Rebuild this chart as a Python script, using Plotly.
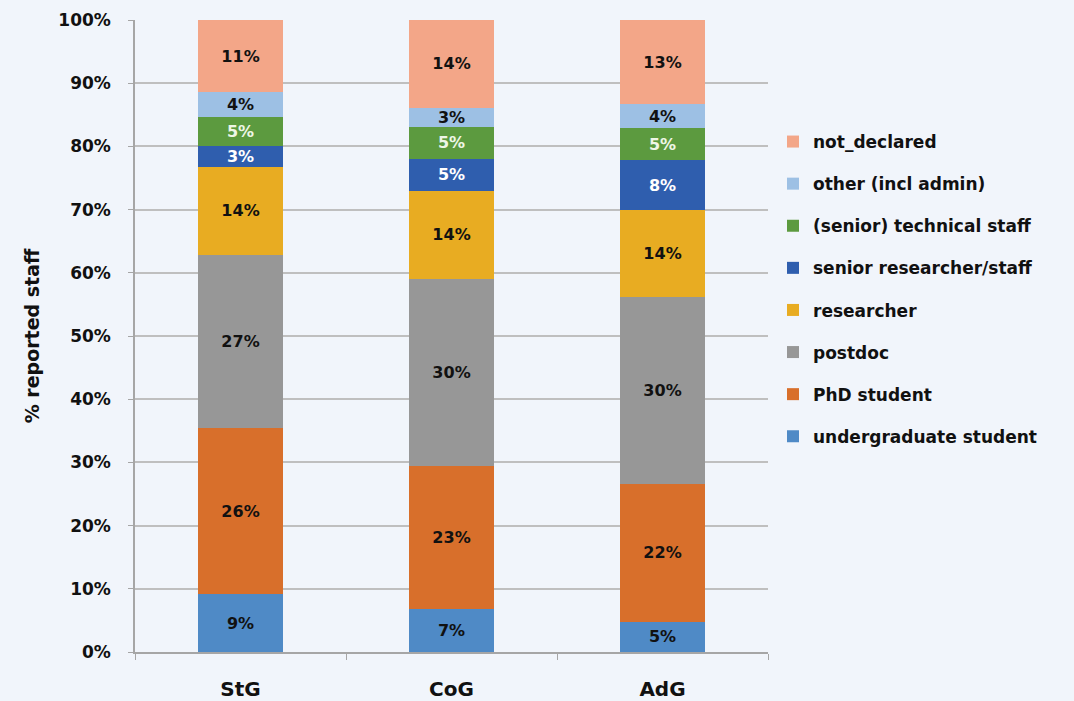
import plotly.graph_objects as go

categories = ["StG", "CoG", "AdG"]
series_names = ["undergraduate student", "PhD student", "postdoc", "researcher",
                "senior researcher/staff", "(senior) technical staff",
                "other (incl admin)", "not_declared"]
undergraduate = [9.1, 6.8, 4.8]
phd = [26.4, 22.6, 21.8]
postdoc = [27.3, 29.6, 29.6]
researcher = [14.0, 14.0, 13.7]
senior = [3.3, 5.0, 7.9]
technical = [4.6, 5.1, 5.1]
other = [3.9, 2.9, 3.8]
not_declared = [11.4, 14.1, 13.3]

series_values = [undergraduate, phd, postdoc, researcher, senior, technical, other, not_declared]
colors = ["#4F8AC6", "#D86F2B", "#979797", "#E8AC22", "#2F5EAE", "#5C9A3F", "#9DC0E4", "#F3A688"]
text_colors = ["#111111", "#111111", "#111111", "#111111", "#ffffff", "#eef6e6", "#111111", "#111111"]

FONT = "DejaVu Sans"
INK = "#111111"

fig = go.Figure()
n = len(series_names)
for i, (name, vals) in enumerate(zip(series_names, series_values)):
    fig.add_trace(go.Bar(
        x=categories, y=vals, name=name,
        marker=dict(color=colors[i], line=dict(width=0)),
        texttemplate="%{y:.0f}%", textposition="inside", insidetextanchor="middle",
        textfont=dict(family=FONT, size=16, color=text_colors[i], weight="bold"),
        textangle=0, constraintext="none",
        legendgroup=name, legendrank=n - i,
    ))

fig.update_layout(
    barmode="stack", bargap=0.6,
    width=1074, height=701,
    margin=dict(l=135, r=306, t=20, b=49, autoexpand=False),
    paper_bgcolor="#F1F5FB", plot_bgcolor="#F1F5FB",
    font=dict(family=FONT, color=INK),
    uniformtext=dict(mode=False),
    legend=dict(
        traceorder="grouped", tracegroupgap=17,
        xref="container", yref="container",
        x=773 / 1074, xanchor="left", y=1 - 124 / 701, yanchor="top",
        font=dict(family=FONT, size=17, color=INK, weight="bold"),
        bgcolor="rgba(0,0,0,0)",
    ),
    xaxis=dict(
        showline=True, linecolor="#A6A6A6", linewidth=1.5,
        ticks="outside", tickson="boundaries", ticklen=6, tickcolor="#A6A6A6",
        tickfont=dict(family=FONT, size=20, color=INK, weight="bold"),
        ticklabelstandoff=18,
        showgrid=False,
    ),
    yaxis=dict(
        range=[0, 100], dtick=10, ticksuffix="%",
        showline=True, linecolor="#A6A6A6", linewidth=1.5,
        ticks="outside", ticklen=5, tickcolor="#A6A6A6",
        ticklabelstandoff=14,
        showgrid=True, gridcolor="#BFBFBF", gridwidth=1.5,
        zeroline=False,
        tickfont=dict(family=FONT, size=17, color=INK, weight="bold"),
        title=dict(text="% reported staff", standoff=14,
                   font=dict(family=FONT, size=19, color=INK, weight="bold")),
    ),
)

fig.write_html("out.html", config={"displayModeBar": False},
               post_script="document.body.style.margin='0';document.body.style.overflow='hidden';")
